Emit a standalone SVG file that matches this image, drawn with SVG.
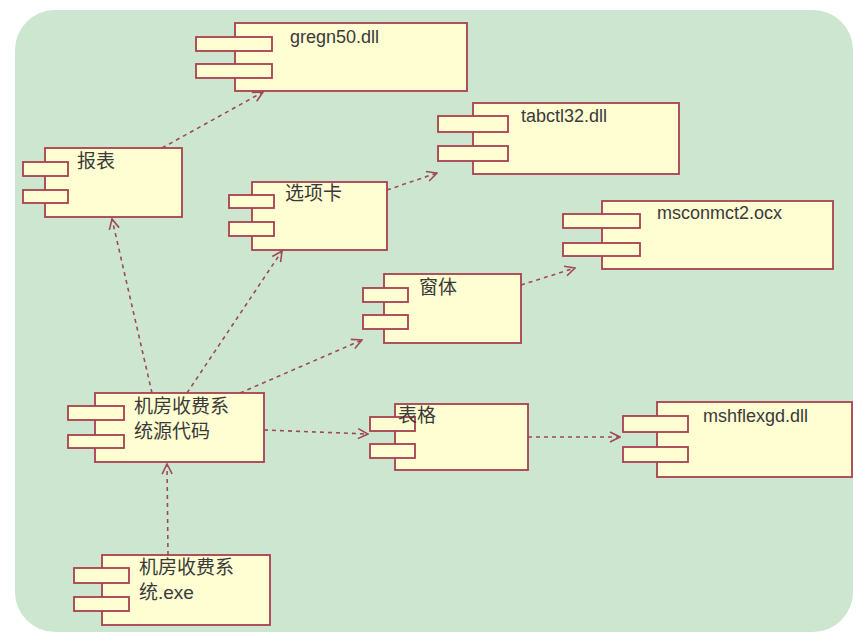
<svg xmlns="http://www.w3.org/2000/svg" width="865" height="644" viewBox="0 0 865 644">
<style>
.m{fill:#fffdd2;stroke:#a8404f;stroke-width:1.8}
.t{fill:#fffdd2;stroke:#a8404f;stroke-width:1.8}
.lbl{font-family:"Liberation Sans","Noto Sans CJK SC",sans-serif;font-size:18px;fill:#3a3a3a}
.zh{font-family:"Liberation Sans","Noto Sans CJK SC",sans-serif;font-size:19px;fill:#3a3a3a}
.c{fill:none;stroke:#9e4a5a;stroke-width:1.6;stroke-dasharray:4 4}
</style>
<defs>
<marker id="ah" viewBox="0 0 12 12" refX="11" refY="6" markerWidth="12" markerHeight="12" markerUnits="userSpaceOnUse" orient="auto">
<path d="M1,1 L11,6 L1,11" fill="none" stroke="#9e4a5a" stroke-width="1.6"/>
</marker>
</defs>
<rect x="0" y="0" width="865" height="644" fill="#ffffff"/>
<rect x="15" y="10" width="838" height="622" rx="40" ry="40" fill="#cde6cf"/>

<g id="connectors">
<line class="c" x1="162" y1="148" x2="263" y2="92" marker-end="url(#ah)"/>
<line class="c" x1="387" y1="190" x2="437" y2="173" marker-end="url(#ah)"/>
<line class="c" x1="521" y1="285" x2="575" y2="268" marker-end="url(#ah)"/>
<line class="c" x1="528" y1="437" x2="620" y2="437" marker-end="url(#ah)"/>
<line class="c" x1="152" y1="393" x2="112" y2="219" marker-end="url(#ah)"/>
<line class="c" x1="187" y1="393" x2="282" y2="251" marker-end="url(#ah)"/>
<line class="c" x1="240" y1="393" x2="362" y2="340" marker-end="url(#ah)"/>
<line class="c" x1="264" y1="430" x2="368" y2="434" marker-end="url(#ah)"/>
<line class="c" x1="168" y1="555" x2="167" y2="464" marker-end="url(#ah)"/>
</g>

<g id="gregn50">
<rect class="m" x="235" y="23" width="232" height="68"/>
<rect class="t" x="196" y="37" width="76" height="14"/>
<rect class="t" x="196" y="64" width="76" height="14"/>
<text class="lbl" x="290" y="43">gregn50.dll</text>
</g>

<g id="baobiao">
<rect class="m" x="45" y="148" width="137" height="69"/>
<rect class="t" x="23" y="162" width="45" height="14"/>
<rect class="t" x="23" y="190" width="45" height="13"/>
<text class="zh" x="77" y="168">报表</text>
</g>

<g id="xuanxiangka">
<rect class="m" x="252" y="182" width="135" height="68"/>
<rect class="t" x="229" y="195" width="45" height="13"/>
<rect class="t" x="229" y="222" width="45" height="14"/>
<text class="zh" x="285" y="200">选项卡</text>
</g>

<g id="tabctl32">
<rect class="m" x="473" y="103" width="206" height="71"/>
<rect class="t" x="438" y="116" width="70" height="16"/>
<rect class="t" x="438" y="146" width="70" height="15"/>
<text class="lbl" x="521" y="122">tabctl32.dll</text>
</g>

<g id="msconmct2">
<rect class="m" x="602" y="201" width="231" height="68"/>
<rect class="t" x="563" y="214" width="77" height="14"/>
<rect class="t" x="563" y="243" width="77" height="13"/>
<text class="lbl" x="657" y="219">msconmct2.ocx</text>
</g>

<g id="chuangti">
<rect class="m" x="384" y="274" width="137" height="69"/>
<rect class="t" x="363" y="288" width="45" height="14"/>
<rect class="t" x="363" y="315" width="45" height="14"/>
<text class="zh" x="419" y="294">窗体</text>
</g>

<g id="source">
<rect class="m" x="95" y="393" width="169" height="69"/>
<rect class="t" x="68" y="406" width="56" height="14"/>
<rect class="t" x="68" y="435" width="56" height="13"/>
<text class="zh" x="134" y="413">机房收费系</text>
<text class="zh" x="134" y="438">统源代码</text>
</g>

<g id="biaoge">
<rect class="m" x="395" y="404" width="133" height="66"/>
<rect class="t" x="370" y="417" width="45" height="14"/>
<rect class="t" x="370" y="444" width="45" height="14"/>
<text class="zh" x="398" y="422">表格</text>
</g>

<g id="mshflexgd">
<rect class="m" x="657" y="402" width="195" height="75"/>
<rect class="t" x="623" y="416" width="65" height="16"/>
<rect class="t" x="623" y="447" width="65" height="15"/>
<text class="lbl" x="703" y="422">mshflexgd.dll</text>
</g>

<g id="exe">
<rect class="m" x="102" y="555" width="168" height="70"/>
<rect class="t" x="74" y="568" width="55" height="15"/>
<rect class="t" x="74" y="597" width="55" height="14"/>
<text class="zh" x="139" y="574">机房收费系</text>
<text class="zh" x="139" y="599">统.exe</text>
</g>
</svg>
